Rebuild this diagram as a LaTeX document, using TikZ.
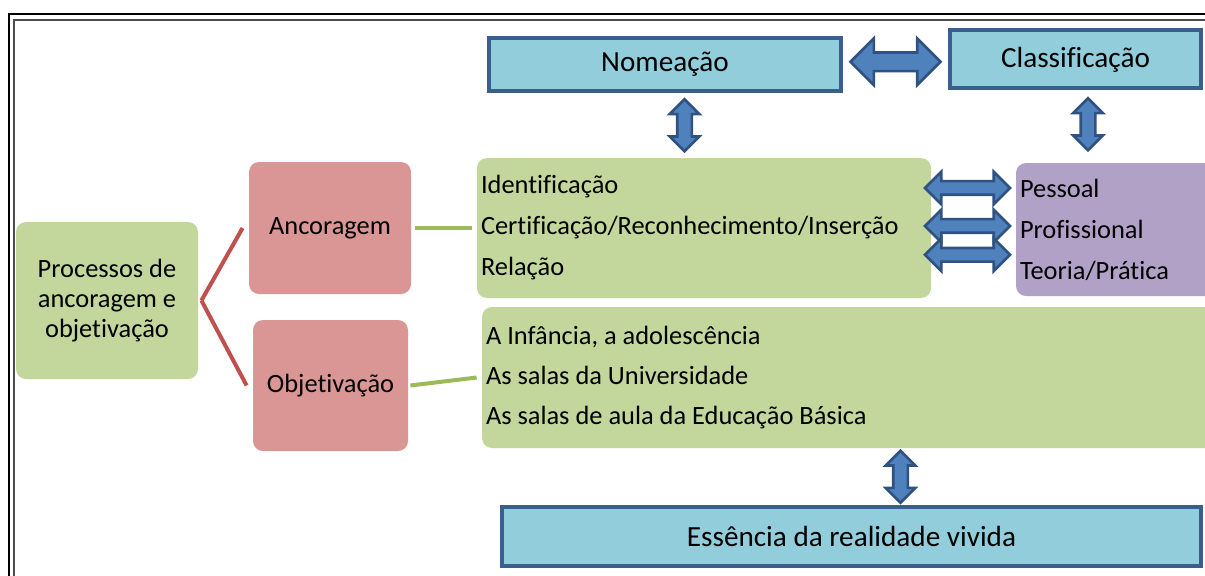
\documentclass[tikz,border=0pt]{standalone}
\usepackage{fontspec}
\setmainfont{Carlito}[Ligatures=NoCommon]
\usetikzlibrary{shapes.arrows}
\usetikzlibrary{calc}
\definecolor{boxblue}{HTML}{92CDDC}
\definecolor{boxblueline}{HTML}{3A5F8D}
\definecolor{boxgreen}{HTML}{C3D69B}
\definecolor{boxpink}{HTML}{D99694}
\definecolor{boxpurple}{HTML}{B2A1C7}
\definecolor{linered}{HTML}{C0504D}
\definecolor{linegreen}{HTML}{9BBB59}
\definecolor{arrfill}{HTML}{4F81BD}
\definecolor{arrline}{HTML}{2F5283}

\begin{document}
\begin{tikzpicture}[x=0.5pt, y=-0.5pt,
  titlebox/.style={draw=boxblueline, fill=boxblue, line width=2pt, inner sep=0pt, font=\fontsize{14.6}{17}\selectfont},
  roundbox/.style={rounded corners=5pt, inner sep=2pt, font=\fontsize{13.2}{15}\selectfont},
  listbox/.style={roundbox, fill=boxgreen, align=flush left, font=\fontsize{13.2}{20.5}\selectfont},
  blockarr/.style={double arrow, draw=arrline, fill=arrfill, line width=1.3pt, inner xsep=0pt, double arrow tip angle=90},
  varr/.style={blockarr, rotate=90, inner ysep=3pt, minimum width=13.5pt, minimum height=26pt, double arrow head extend=3.75pt},
  harr/.style={blockarr, inner ysep=2.75pt, minimum width=15pt, minimum height=42.5pt, double arrow head extend=4.75pt},
  redline/.style={draw=linered, line width=2pt},
  greenline/.style={draw=linegreen, line width=2pt}]
  \clip (0,0) rectangle (1205,575);
  % frame, cut by the page on the right and below
  \draw[line width=1pt] (9,620) -- (9,14) -- (1240,14);
  \draw[line width=1pt, black!70] (14,620) -- (14,20) -- (1240,20);

  \node[titlebox, minimum width=176pt, minimum height=26.5pt] (nome) at (665,64.5) {Nomeação};
  \node[titlebox, minimum width=125.5pt, minimum height=29pt, text depth=2pt] (class) at (1075.5,59) {Classificação};
  \node[titlebox, minimum width=349.5pt, minimum height=29.5pt] (ess) at (851.5,536.5) {Essência da realidade vivida};

  \node[roundbox, fill=boxgreen, align=flush center, minimum width=91pt, minimum height=78.5pt] (proc) at (107,300.5) {Processos de\\ancoragem e\\objetivação};
  \node[roundbox, fill=boxpink, minimum width=81pt, minimum height=66pt] (ancor) at (330,228) {Ancoragem};
  \node[roundbox, fill=boxpink, minimum width=77.5pt, minimum height=65.5pt] (objet) at (330.5,385.5) {Objetivação};

  \node[listbox, text width=223pt, minimum height=70pt] (ident) at (704,228) {Identificação\\Certificação/Reconhecimento/Inserção\\Relação};
  \node[listbox, fill=boxpurple, text width=100.5pt, minimum height=66.5pt] (pess) at (1120.5,229.5) {Pessoal\\Profissional\\Teoria/Prática};
  \node[listbox, text width=367.5pt, minimum height=70.5pt, font=\fontsize{13.2}{20}\selectfont] (vida) at (853.5,377.5) {A Infância, a adolescência\\As salas da Universidade\\As salas de aula da Educação Básica};

  \draw[redline] ([xshift=1.5pt]proc.east) -- ([xshift=-3pt]ancor.west);
  \draw[redline] ([xshift=1.5pt]proc.east) -- ([xshift=-3pt]objet.west);
  \draw[greenline] ([xshift=2pt]ancor.east) -- ([xshift=-2.5pt]ident.west);
  \draw[greenline] ([xshift=1pt]objet.east) -- ([xshift=-2.5pt]vida.west);

  \node[blockarr, inner ysep=4pt, minimum width=22pt, minimum height=45pt, double arrow head extend=7pt] (nc) at ($(nome.east)!0.5!(class.west)$) {};
  \node[varr] (ni) at ($(nome.south)!0.5!(ident.north)$) {};
  \node[varr] (cp) at ($(class.south)!0.5!(pess.north)+(-10,-2)$) {};
  \node[varr] (ve) at ($(vida.south)!0.5!(ess.north)+(48,0)$) {};
  \coordinate (ip) at ($(ident.east)!0.5!(pess.west)$);
  \foreach \dy/\n in {20.4/ip1, 1.4/ip2, -13/ip3}
    \node[harr, xshift=-3pt, yshift=\dy pt] (\n) at (ip) {};
\end{tikzpicture}
\end{document}
